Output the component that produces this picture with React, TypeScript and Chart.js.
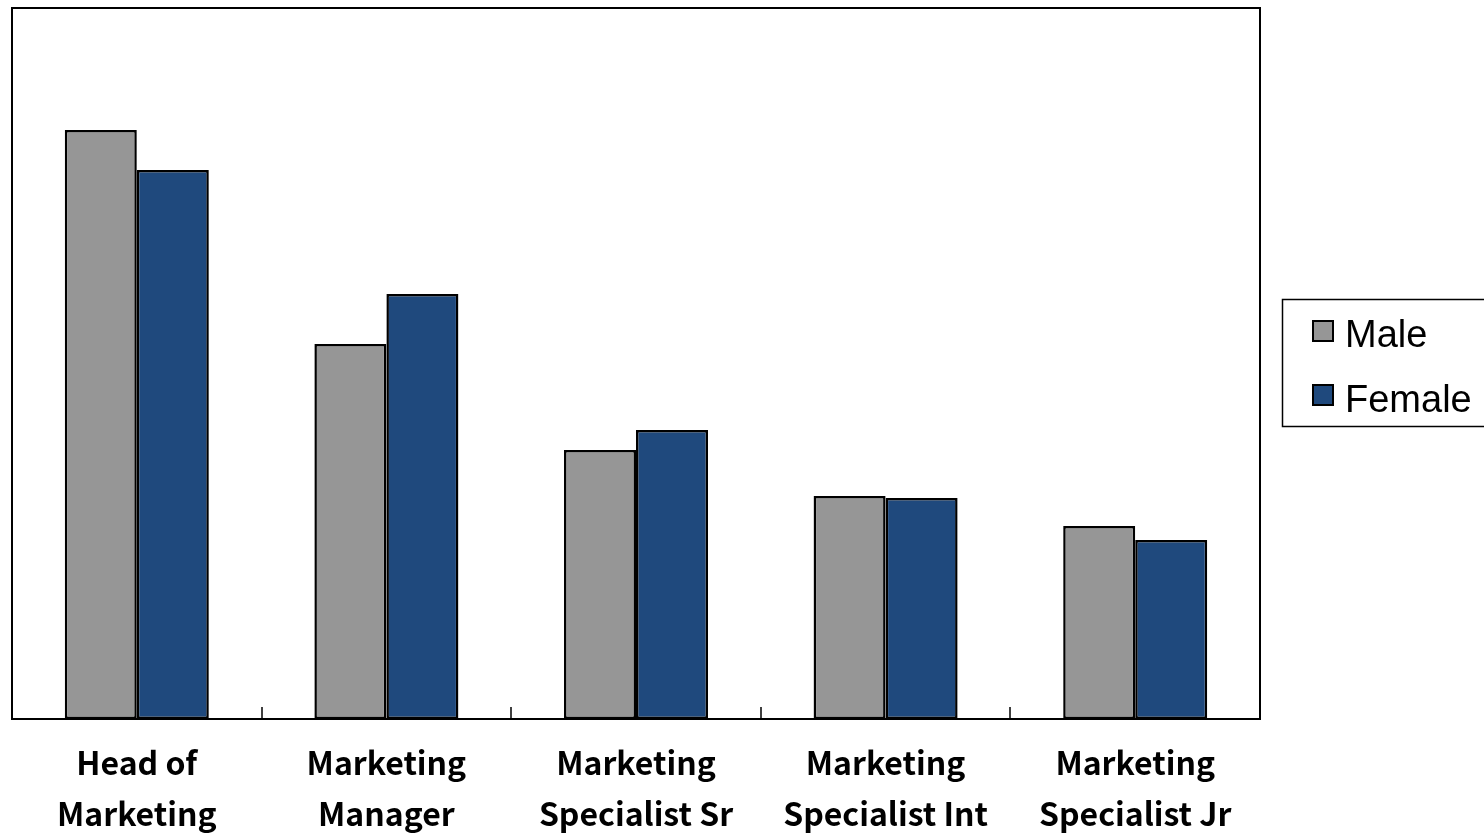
import React, { useEffect, useRef } from "react";
import { Chart, registerables } from "chart.js";

Chart.register(...registerables);

const categories: string[][] = [
  ["Head of", "Marketing"],
  ["Marketing", "Manager"],
  ["Marketing", "Specialist Sr"],
  ["Marketing", "Specialist Int"],
  ["Marketing", "Specialist Jr"],
];
const maleValues = [589, 375, 269, 223, 193];
const femaleValues = [549, 425, 289, 221, 179];
const seriesNames = ["Male", "Female"];
const seriesColors = ["#969696", "#1F497D"];
const yMax = 711;

const framePlugin = {
  id: "frameAndLegend",
  afterDraw(chart: any) {
    const { ctx, chartArea } = chart;
    const { left, top, right, bottom } = chartArea;
    ctx.save();
    ctx.strokeStyle = "#000";
    ctx.lineWidth = 2;
    ctx.strokeRect(left, top, right - left, bottom - top);
    // inward tick marks at category boundaries
    const xs = chart.scales.x;
    ctx.lineWidth = 1.5;
    for (let i = 1; i < categories.length; i++) {
      const x = Math.round((xs.getPixelForValue(i - 1) + xs.getPixelForValue(i)) / 2);
      ctx.beginPath();
      ctx.moveTo(x, bottom);
      ctx.lineTo(x, bottom - 12);
      ctx.stroke();
    }
    // legend
    const lx = 1282;
    const ly = 299;
    ctx.lineWidth = 1.5;
    ctx.strokeRect(lx + 0.5, ly + 0.5, 220, 127);
    ctx.font = "38px 'Liberation Sans', Arial, sans-serif";
    ctx.textBaseline = "alphabetic";
    ctx.textAlign = "left";
    chart.data.datasets.forEach((ds: any, i: number) => {
      const sy = 321 + i * 64;
      ctx.fillStyle = ds.backgroundColor;
      ctx.fillRect(1313, sy, 20, 20);
      ctx.strokeStyle = "#000";
      ctx.lineWidth = 2;
      ctx.strokeRect(1313, sy, 20, 20);
      ctx.fillStyle = "#000";
      ctx.fillText(ds.label, 1345, 347 + i * 65);
    });
    ctx.restore();
  },
};

export default function App() {
  const ref = useRef<HTMLCanvasElement>(null);
  useEffect(() => {
    if (!ref.current) return;
    const chart = new Chart(ref.current, {
      type: "bar",
      data: {
        labels: categories,
        datasets: [
          {
            label: seriesNames[0],
            data: maleValues,
            backgroundColor: seriesColors[0],
            borderColor: "#000",
            borderWidth: 2.5,
            borderSkipped: false,
          },
          {
            label: seriesNames[1],
            data: femaleValues,
            backgroundColor: seriesColors[1],
            borderColor: "#000",
            borderWidth: 2.5,
            borderSkipped: false,
          },
        ],
      },
      options: {
        animation: false,
        responsive: false,
        maintainAspectRatio: false,
        layout: { padding: { left: 12, top: 8, right: 224, bottom: 0 } },
        datasets: { bar: { categoryPercentage: 0.577, barPercentage: 1 } },
        plugins: { legend: { display: false }, tooltip: { enabled: false } },
        scales: {
          x: {
            grid: { display: false, drawTicks: false },
            border: { display: false },
            ticks: {
              color: "#000",
              padding: 19,
              maxRotation: 0,
              autoSkip: false,
              font: { family: "'Noto Sans CJK JP', sans-serif", size: 32, weight: "bold", lineHeight: 1.57 },
            },
            afterFit(scale: any) {
              scale.height = 833 - 719;
            },
          },
          y: {
            display: false,
            min: 0,
            max: yMax,
          },
        },
      },
      plugins: [framePlugin],
    });
    return () => chart.destroy();
  }, []);
  return (
    <div style={{ position: "fixed", left: 0, top: 0, width: 1484, height: 833, background: "#fff" }}>
      <canvas ref={ref} width={1484} height={833} style={{ width: 1484, height: 833 }} />
    </div>
  );
}
